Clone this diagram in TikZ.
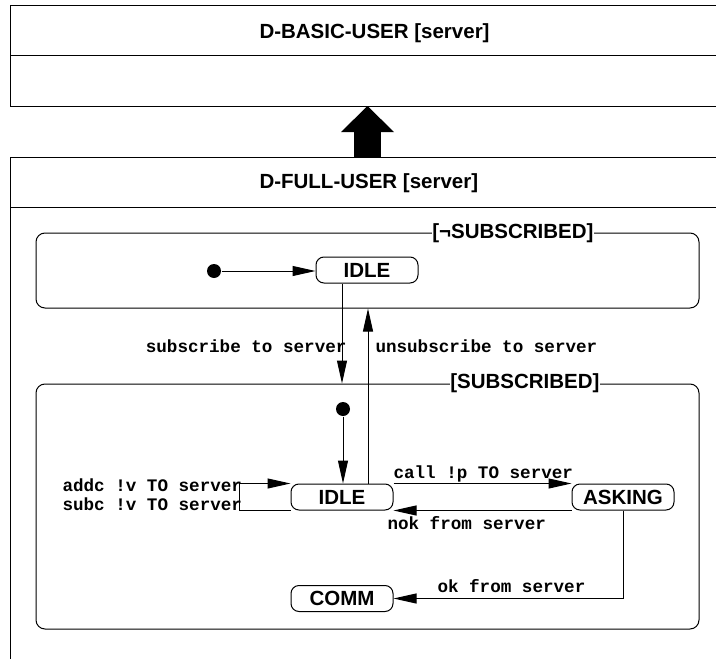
\documentclass[tikz,border=0pt]{standalone}
\usepackage{fontspec}
\setmainfont{Liberation Sans}
\newfontfamily\evmono{Liberation Mono}
\usetikzlibrary{arrows.meta, calc}
\newcommand\stfont{\fontsize{20.5}{23}\selectfont\bfseries}
\newcommand\evfont{\evmono\fontsize{17.6}{20}\selectfont\bfseries}

\begin{document}
\begin{tikzpicture}[x=1pt, y=-1pt, line width=1pt,
    state/.style={draw, rounded corners=8pt, minimum width=102pt, minimum height=26pt,
      inner sep=0pt, text height=14.7pt, text depth=0pt, font=\stfont},
    region/.style={draw, rounded corners=9pt, minimum width=663pt, inner sep=0pt},
    guard/.style={fill=white, inner sep=0pt, anchor=base east, font=\stfont},
    title/.style={inner sep=0pt, anchor=base west, font=\stfont},
    event/.style={inner sep=0pt, font=\evfont},
    trans/.style={-{Triangle[length=23pt,width=10pt]}},
    start/.style={circle, fill, inner sep=0pt, minimum size=14pt}]
  \useasboundingbox (0,0) rectangle (716,659);
  % classes
  \draw (10,5) rectangle (730,106) (10,55) -- (730,55);
  \draw (10,157) rectangle (730,700) (10,207) -- (730,207);
  \node[title] (basic) at (259,38.5) {D-BASIC-USER [server]};
  \node[title] (full) at (259,188.5) {D-FULL-USER [server]};
  \coordinate (basic bottom) at (367.5,106);
  \coordinate (full top) at (367.5,157);
  \draw[line width=27pt, -{Triangle[length=26pt,width=53pt,line width=0pt]}]
    (full top) -- (basic bottom);
  % regions
  \node[region, minimum height=75pt] (unsub) at (367.5,270.5) {};
  \node[region, minimum height=245pt] (sub) at (367.5,506.5) {};
  \node[guard] at (594,238) {[¬SUBSCRIBED]};
  \node[guard] at (600,388.5) {[SUBSCRIBED]\hspace{6pt}};
  % states
  \node[start] (init top) at (214,271) {};
  \node[state] (idle top) at (367,270) {IDLE};
  \node[start] (init sub) at (343,409) {};
  \node[state] (idle) at (342,497) {IDLE};
  \node[state] (asking) at (623,497) {ASKING};
  \node[state] (comm) at (342,598.5) {COMM};
  % transitions
  \draw[trans] (init top) -- (init top -| idle top.west);
  \draw[trans] ([xshift=-25pt]idle top.south) -- ([xshift=-25pt]idle top.south |- sub.north);
  \draw[trans] ([xshift=26pt]idle.north) -- ([xshift=26pt]idle.north |- unsub.south);
  \draw[trans] (init sub) -- (init sub |- idle.north);
  \draw[trans] (idle.north east) -- (asking.north west);
  \draw[trans] (asking.south west) -- (idle.south east);
  \draw[trans] (idle.south west) -- ++(-51,0) |- (idle.north west);
  \draw[trans] (asking.south) |- (comm.east);
  \node[event, anchor=base east] (subscribe) at (347,352) {subscribe to server};
  \node[event, anchor=base west] (unsubscribe) at (375,352) {unsubscribe to server};
  \node[event, anchor=base west] (addc) at (62,491) {addc !v TO server};
  \node[event, anchor=base west] (subc) at (62,510) {subc !v TO server};
  \node[event, anchor=base west] (call) at (393,478) {call !p TO server};
  \node[event, anchor=base west] (nok) at (387,529) {nok from server};
  \node[event, anchor=base west] (ok) at (437,592) {ok from server};
\end{tikzpicture}
\end{document}
